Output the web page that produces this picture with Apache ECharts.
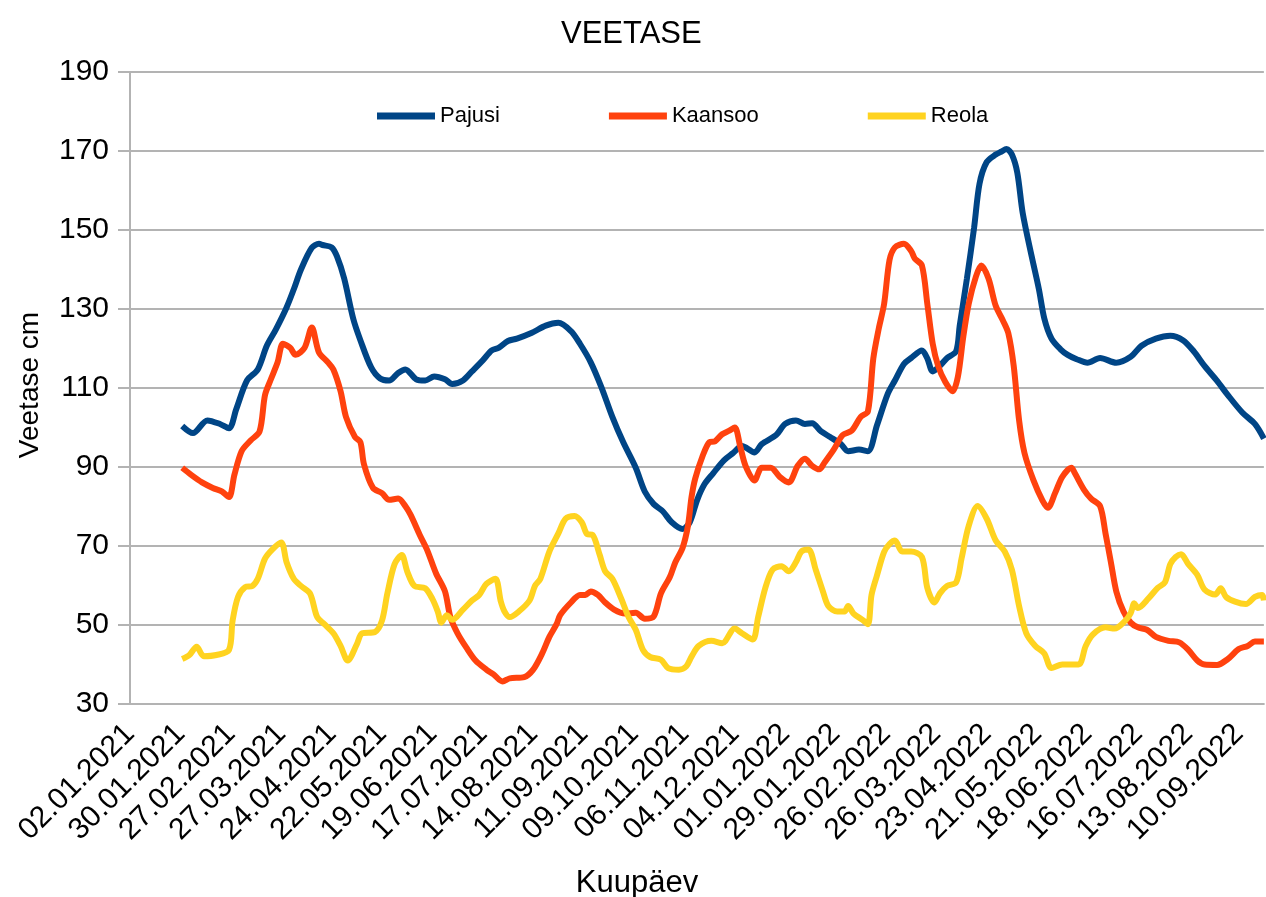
<!DOCTYPE html>
<html>
<head>
<meta charset="utf-8">
<script src="https://cdn.jsdelivr.net/npm/echarts@6/dist/echarts.min.js"></script>
<style>
html,body{margin:0;padding:0;background:#fff;}
#chart{width:1266px;height:897px;}
</style>
</head>
<body>
<div id="chart"></div>
<script>
// x values are days counted from 02.01.2021 (the first axis tick)
const tickLabels = ['02.01.2021','30.01.2021','27.02.2021','27.03.2021','24.04.2021','22.05.2021','19.06.2021','17.07.2021','14.08.2021','11.09.2021','09.10.2021','06.11.2021','04.12.2021','01.01.2022','29.01.2022','26.02.2022','26.03.2022','23.04.2022','21.05.2022','18.06.2022','16.07.2022','13.08.2022','10.09.2022'];

const pajusiDays = [29,35,43,50,55,59,65,71,76,81,87,91,95,101,105,107,112,115,119,124,128,134,139,144,149,153,159,164,169,175,179,185,190,196,201,205,210,215,223,231,238,245,250,256,262,268,274,281,286,291,296,301,307,311,315,319,324,330,335,340,347,351,359,364,370,375,379,384,389,395,399,405,410,415,421,425,430,434,440,443,446,450,454,459,461,465,469,472,476,481,484,487,490,493,496,501,505,508,512,517,521,526,532,539,548,556,562,570,578,585,591,597,604,610,618,625,630];
const pajusiValues = [100.4,98.6,101.8,100.9,99.8,104.6,111.9,114.7,120.7,124.8,130.4,135,140,145.5,146.5,146.2,145.6,143.3,137.7,127.6,122.1,115.2,112.4,111.9,113.8,114.7,112.2,111.9,112.9,112.2,111,111.9,114.2,117,119.5,120.2,121.9,122.5,123.9,125.8,126.5,124.4,121.2,116.5,110.1,102.7,96.3,89.8,83.8,80.6,78.8,76,74.3,76,81.5,85.5,88.4,91.7,93.5,95.3,93.7,95.8,98.1,100.9,101.8,100.9,101.1,99,97.6,95.8,94,94.4,94,100.5,108.5,111.9,116.1,117.6,119.5,117.5,114.2,115.6,117.6,119.3,125.8,137.7,150.6,161.7,167.2,169.1,169.8,170.5,169.1,164.5,154.3,143.3,135,127.6,122.5,119.8,118.4,117.3,116.4,117.6,116.4,117.9,120.7,122.5,123.2,122.1,119.3,115.6,111.8,108.2,103.8,100.9,97.2];

const kaansooDays = [29,34,40,46,51,55,58,62,67,72,75,78,82,85,89,92,97,101,105,110,113,117,120,125,128,130,135,140,144,149,153,156,161,165,170,175,178,182,187,192,198,202,207,211,219,224,229,233,237,239,245,250,253,256,260,264,269,275,281,286,291,295,300,303,307,310,312,314,318,322,325,329,333,336,339,342,347,351,356,361,366,371,375,379,383,386,391,396,401,406,410,413,416,419,422,425,430,434,436,440,443,446,449,453,457,460,463,466,470,473,477,481,485,488,491,494,497,502,507,510,514,518,523,525,530,534,539,542,545,548,552,556,560,565,570,577,583,588,593,597,604,610,616,621,625,630];
const kaansooValues = [89.8,88,86.1,84.7,83.8,82.4,88,94,96.7,99,108.2,111.9,116.5,121.2,120.2,118.4,120.2,125.3,119,116.5,114.7,109.2,102.7,97.6,96.3,90.7,84.7,83.4,81.7,82,80.1,77.8,72.8,69.1,63.1,58.5,52,47.9,44.2,41,38.7,37.5,35.7,36.5,36.8,38.7,42.8,47,50.2,52.5,55.7,57.6,57.6,58.5,57.6,55.7,53.9,52.9,53.1,51.6,52.2,58,62.2,65.9,69.5,75.1,82.4,87,92.6,96.3,96.5,98.3,99.2,100,95.3,90.3,86.6,89.8,89.8,87.5,86.1,90.3,92.1,90.3,89.4,91.2,94.4,98.1,99.2,102.7,104.1,117.5,125,131.3,142.4,145.6,146.5,144.7,142.8,141,131.3,121.2,115.6,111.5,109.2,112.9,123,131.3,138.2,141,137.7,130.8,127.1,123.9,115.6,101.8,93.5,86.6,81.5,79.7,83.4,87.5,89.8,88.4,84.3,82,80.1,73.2,65.9,58.5,53.4,50.6,49.4,48.8,47,46,45.6,43.7,41,40,39.9,41.4,43.9,44.7,45.8,45.8];

const reolaDays = [29,33,37,41,48,55,57,60,64,68,71,75,79,84,87,91,95,100,104,108,113,117,121,126,129,136,140,143,147,151,154,158,164,168,171,173,176,179,185,190,194,198,203,206,208,211,216,222,225,228,233,238,242,247,251,254,257,261,264,268,273,277,281,285,289,295,299,305,309,312,316,323,329,336,340,346,349,353,357,362,366,370,373,377,381,385,388,393,397,399,402,407,410,412,415,419,422,425,429,434,440,443,447,450,454,459,462,466,471,476,481,486,490,494,498,503,508,512,518,527,531,535,542,547,553,556,558,560,566,571,575,578,581,584,588,593,597,603,606,609,614,620,625,629,630];
const reolaValues = [41.4,42.4,44.5,42.1,42.4,43.7,51.1,57.1,59.6,59.9,61.7,66.8,69.1,70.9,65.9,61.7,59.9,58,52,50.2,47.9,44.7,41,45.1,47.9,48.2,51.1,58,65.4,67.7,63.6,59.9,59.3,56.6,53.4,50.6,52.5,51.3,53.9,56.2,57.6,60.4,61.7,56,53.5,52,53.4,56.2,59.9,61.7,68.6,73.2,76.9,77.6,76,73,72.8,67.7,63.6,61.7,56.6,52,48.8,43.7,41.9,41.2,39.1,38.7,39.5,42,44.7,46,45.4,49.1,47.9,46.3,52,59.4,64,64.9,63.6,65.9,68.6,69.1,64,58.5,54.8,53.4,53.4,54.8,52.9,51.3,50.2,57.6,62.5,68.5,70.5,71.4,68.6,68.6,67.2,59.4,55.7,58,59.9,60.8,66.8,75.1,80.1,76.9,71.4,68.6,64,54.8,47.9,44.7,42.8,39.1,40,40,44.7,47.6,49.4,49.1,51.1,53,55.5,54.3,56.8,59.4,60.8,65.4,67.2,67.9,65.4,62.7,59,57.7,59.3,57.1,55.9,55.3,57.1,57.6,56.2];

const seriesNames = ['Pajusi','Kaansoo','Reola'];
const seriesColors = ['#004586','#ff420e','#ffd320'];

function pairs(days, vals){ return days.map((d,i)=>[d, vals[i]]); }

const chart = echarts.init(document.getElementById('chart'), null, {renderer:'canvas'});
const FONT = '"Liberation Sans", Arial, sans-serif';
const gridColor = '#b3b3b3';

chart.setOption({
  animation:false,
  backgroundColor:'#ffffff',
  textStyle:{fontFamily:FONT, color:'#000'},
  title:{
    text:'VEETASE', left:556, top:14,
    textStyle:{fontFamily:FONT, fontSize:31, fontWeight:'normal', color:'#000'}
  },
  legend:{
    data:seriesNames, left:372, top:100,
    icon:'rect', itemWidth:58, itemHeight:7, itemGap:109,
    textStyle:{fontFamily:FONT, fontSize:22, color:'#000'}
  },
  grid:{left:130, right:0, top:72, bottom:193, containLabel:false},
  xAxis:{
    type:'value', min:0, max:630, interval:28,
    axisLine:{show:true, lineStyle:{color:gridColor, width:2}},
    axisTick:{show:false},
    splitLine:{show:false},
    axisLabel:{
      rotate:45, margin:25, fontSize:30, color:'#000', fontFamily:FONT,
      showMaxLabel:true,
      formatter:function(v){ return (v % 28 === 0 && tickLabels[v/28]) ? tickLabels[v/28] : ''; }
    }
  },
  yAxis:{
    type:'value', min:30, max:190, interval:20,
    axisLine:{show:true, lineStyle:{color:gridColor, width:2}},
    axisTick:{show:true, length:12, lineStyle:{color:gridColor, width:2}},
    splitLine:{show:true, lineStyle:{color:gridColor, width:2}},
    axisLabel:{fontSize:30, color:'#000', margin:21, fontFamily:FONT}
  },
  graphic:[
    {type:'text', x:30, y:385, rotation:Math.PI/2,
     style:{text:'Veetase cm', font:'28px "Liberation Sans", Arial, sans-serif', fill:'#000', textAlign:'center', textVerticalAlign:'middle'}},
    {type:'text', x:637, y:883,
     style:{text:'Kuupäev', font:'31px "Liberation Sans", Arial, sans-serif', fill:'#000', textAlign:'center', textVerticalAlign:'middle'}}
  ],
  series:[
    {name:seriesNames[0], type:'line', data:pairs(pajusiDays,pajusiValues), showSymbol:false, smooth:0.3,
     color:seriesColors[0], lineStyle:{width:6, color:seriesColors[0]}},
    {name:seriesNames[1], type:'line', data:pairs(kaansooDays,kaansooValues), showSymbol:false, smooth:0.3,
     color:seriesColors[1], lineStyle:{width:6, color:seriesColors[1]}},
    {name:seriesNames[2], type:'line', data:pairs(reolaDays,reolaValues), showSymbol:false, smooth:0.3,
     color:seriesColors[2], lineStyle:{width:6, color:seriesColors[2]}}
  ]
});
</script>
</body>
</html>
